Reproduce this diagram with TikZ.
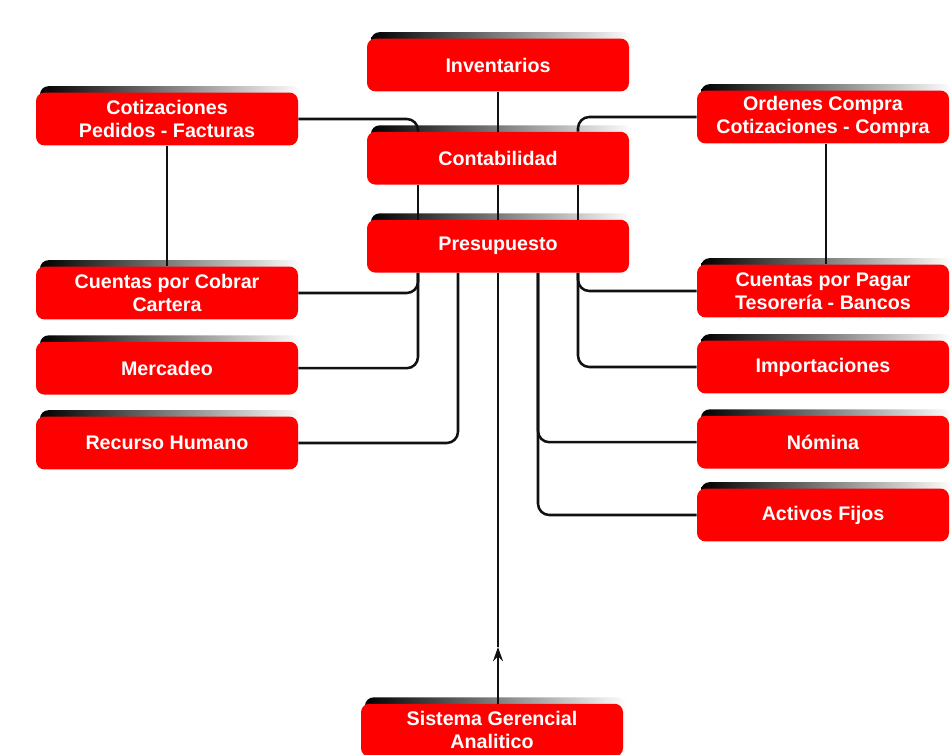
\documentclass[tikz,border=0pt]{standalone}
\usepackage{fontspec}
\setsansfont{Liberation Sans}
\usepackage{xcolor}
\definecolor{boxred}{HTML}{FF0000}
\definecolor{wire}{HTML}{111111}
\usepackage{tikz}
\usetikzlibrary{positioning,arrows.meta}

\begin{document}
\begin{tikzpicture}[
  font=\sffamily\bfseries\fontsize{14}{16.5}\selectfont,
  modulo/.style={fill=boxred, rounded corners=6pt, text=white, align=center,
                 minimum width=6.55cm, minimum height=1.32cm, inner sep=2pt,
                 preaction={left color=black, right color=white,
                            transform canvas={shift={(0.1cm,0.16cm)}}}},
  ancho/.style={minimum width=6.3cm},
  link/.style={wire, line width=1.8pt, rounded corners=8pt},
  arrow/.style={link, -{Stealth[length=10pt,width=7pt]}}
]
  \useasboundingbox (0,0) rectangle (23.75,18.875);

  % centro
  \node[modulo] (inv)  at (12.45,17.25) {Inventarios};
  \node[modulo] (cont) at (12.45,14.92) {Contabilidad};
  \node[modulo] (pres) at (12.45,12.72) {Presupuesto};
  \node[modulo] (sg)   at (12.30, 0.62) {Sistema Gerencial\\Analitico};

  % izquierda
  \node[modulo] (cot) at (4.175,15.90) {Cotizaciones\\Pedidos - Facturas};
  \node[modulo] (cob) at (4.175,11.55) {Cuentas por Cobrar\\Cartera};
  \node[modulo] (mer) at (4.175, 9.67) {Mercadeo};
  \node[modulo] (rh)  at (4.175, 7.80) {Recurso Humano};

  % derecha
  \node[modulo, ancho] (ord) at (20.575,15.95) {Ordenes Compra\\Cotizaciones - Compra};
  \node[modulo, ancho] (pag) at (20.575,11.60) {Cuentas por Pagar\\Tesorería - Bancos};
  \node[modulo, ancho] (imp) at (20.575, 9.70) {Importaciones};
  \node[modulo, ancho] (nom) at (20.575, 7.82) {Nómina};
  \node[modulo, ancho] (act) at (20.575, 6.00) {Activos Fijos};

  \coordinate (punta) at (12.45,2.70);

  \draw[link] (inv) -- (cont);
  \draw[link] (cot.east) -| ([xshift=-2cm]cont.north);
  \draw[link] (ord.west) -| ([xshift=2cm]cont.north);
  \draw[link] (cot) -- (cob);
  \draw[link] ([xshift=0.08cm]ord.south) -- ([xshift=0.08cm]pag.north);

  \draw[link] ([xshift=-2cm]cont.south) -- ([xshift=-2cm]pres.north);
  \draw[link] (cont) -- (pres);
  \draw[link] ([xshift=2cm]cont.south) -- ([xshift=2cm]pres.north);

  \draw[link] ([xshift=-2cm]pres.south) |- (cob.east);
  \draw[link] ([xshift=-2cm]pres.south) |- (mer.east);
  \draw[link] ([xshift=-1cm]pres.south) |- (rh.east);
  \draw[link] ([xshift=1cm]pres.south) |- (nom.west);
  \draw[link] ([xshift=1cm]pres.south) |- (act.west);
  \draw[link] ([xshift=2cm]pres.south) |- (pag.west);
  \draw[link] ([xshift=2cm]pres.south) |- (imp.west);

  \draw[arrow] (sg.north -| punta) -- (punta);
  \draw[link] (punta) -- (pres.south -| punta);
\end{tikzpicture}
\end{document}
